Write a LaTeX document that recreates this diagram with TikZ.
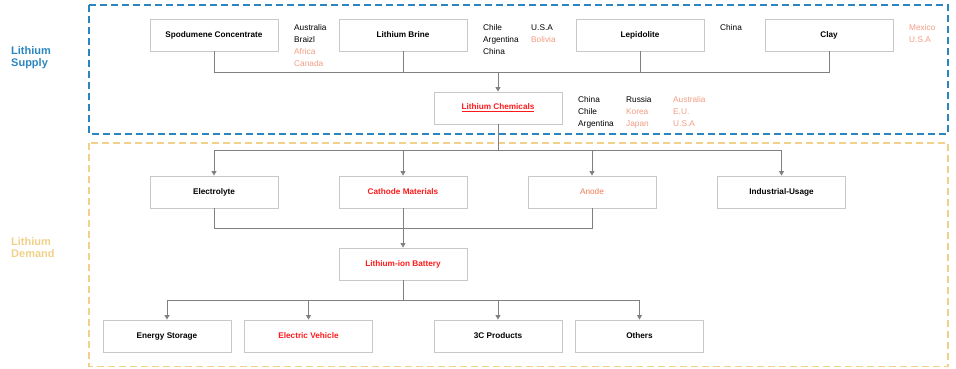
\documentclass[tikz,border=0pt]{standalone}
\usepackage{fontspec}
\setmainfont{Liberation Sans}
\usetikzlibrary{arrows.meta}
\definecolor{supplyblue}{HTML}{2B86C0}
\definecolor{demandgold}{HTML}{F1D08A}
\definecolor{boxgray}{HTML}{C8C8C8}
\definecolor{linegray}{HTML}{808080}
\definecolor{hotred}{HTML}{FF1A1A}
\definecolor{anodeorange}{HTML}{EE7A55}
\definecolor{salmon}{HTML}{F29C82}
\tikzset{
  stage/.style={draw=boxgray, line width=0.9pt, minimum width=128pt, minimum height=32pt,
    inner sep=0pt, font=\fontsize{8.2}{10}\selectfont\bfseries},
  region/.style={anchor=base west, inner sep=0pt, font=\fontsize{8.3}{10}\selectfont},
  title/.style={anchor=base west, inner sep=0pt, font=\fontsize{11}{13}\selectfont\bfseries},
  frame/.style={line width=1.4pt, dash pattern=on 7pt off 4pt},
  conn/.style={draw=linegray, line width=0.9pt},
  arr/.style={conn, -{Triangle[width=5pt,length=4.5pt]}, fill=linegray},
}
\begin{document}
\begin{tikzpicture}[x=1pt,y=-1pt]
\useasboundingbox (0,0) rectangle (956,368);

% group frames
\draw[frame, supplyblue] (89,5) rectangle (948,134);
\draw[frame, demandgold] (89,143) rectangle (948,366.5);

% group titles
\node[title, text=supplyblue] (tsup1) at (11,54.5) {Lithium};
\node[title, text=supplyblue] (tsup2) at (11,66.5) {Supply};
\node[title, text=demandgold] (tdem1) at (11,245.5) {Lithium};
\node[title, text=demandgold] (tdem2) at (11,257) {Demand};

% raw materials
\node[stage] (spod) at (214,35) {Spodumene Concentrate};
\node[stage] (brine) at (403,35) {Lithium Brine};
\node[stage] (lep) at (640,35) {Lepidolite};
\node[stage] (clay) at (829,35) {Clay};

% chemicals
\node[stage, text=hotred] (chem) at (498,108) {\underline{Lithium Chemicals}};

% uses
\node[stage] (elec) at (214,192) {Electrolyte};
\node[stage, text=hotred] (cath) at (403,192) {Cathode Materials};
\node[stage, text=anodeorange, font=\fontsize{8.2}{10}\selectfont] (anode) at (592,192) {Anode};
\node[stage] (ind) at (781.5,192) {Industrial-Usage};

\node[stage, text=hotred] (batt) at (403,264) {Lithium-ion Battery};

\node[stage] (ess) at (167,336) {Energy Storage};
\node[stage, text=hotred] (ev) at (308.5,336) {Electric Vehicle};
\node[stage] (cc) at (498,336) {3C Products};
\node[stage] (oth) at (639.5,336) {Others};

% producing countries
\node[region] (r1) at (294,30) {Australia};
\node[region] (r2) at (294,42) {Braizl};
\node[region, text=salmon] (r3) at (294,54) {Africa};
\node[region, text=salmon] (r4) at (294,66) {Canada};

\node[region] (r5) at (483,30) {Chile};
\node[region] (r6) at (483,42) {Argentina};
\node[region] (r7) at (483,54) {China};
\node[region] (r8) at (531,30) {U.S.A};
\node[region, text=salmon] (r9) at (531,42) {Bolivia};

\node[region] (r10) at (720,30) {China};

\node[region, text=salmon] (r11) at (909,30) {Mexico};
\node[region, text=salmon] (r12) at (909,42) {U.S.A};

\node[region] (c1) at (578,102.5) {China};
\node[region] (c2) at (578,114.5) {Chile};
\node[region] (c3) at (578,126.5) {Argentina};
\node[region] (c4) at (626,102.5) {Russia};
\node[region, text=salmon] (c5) at (626,114.5) {Korea};
\node[region, text=salmon] (c6) at (626,126.5) {Japan};
\node[region, text=salmon] (c7) at (673,102.5) {Australia};
\node[region, text=salmon] (c8) at (673,114.5) {E.U.};
\node[region, text=salmon] (c9) at (673,126.5) {U.S.A};

% supply merge into chemicals
\coordinate (sj) at (498,72);
\draw[conn] (spod.south) |- (clay.south |- sj) -- (clay.south);
\draw[conn] (brine.south) -- (brine.south |- sj);
\draw[conn] (lep.south) -- (lep.south |- sj);
\draw[arr] (sj) -- (chem.north);

% chemicals split into uses
\coordinate (dj) at (498,150);
\draw[conn] (chem.south) -- (dj);
\draw[conn] (elec.north |- dj) -- (ind.north |- dj);
\foreach \n in {elec,cath,anode,ind}
  \draw[arr] (\n.north |- dj) -- (\n.north);

% battery components
\coordinate (bj) at (403,228);
\draw[conn] (elec.south) |- (anode.south |- bj) -- (anode.south);
\draw[arr] (cath.south) -- (batt.north);

% battery applications
\coordinate (oj) at (403,300);
\draw[conn] (batt.south) -- (oj);
\draw[conn] (ess.north |- oj) -- (oth.north |- oj);
\foreach \n in {ess,ev,cc,oth}
  \draw[arr] (\n.north |- oj) -- (\n.north);
\end{tikzpicture}
\end{document}
